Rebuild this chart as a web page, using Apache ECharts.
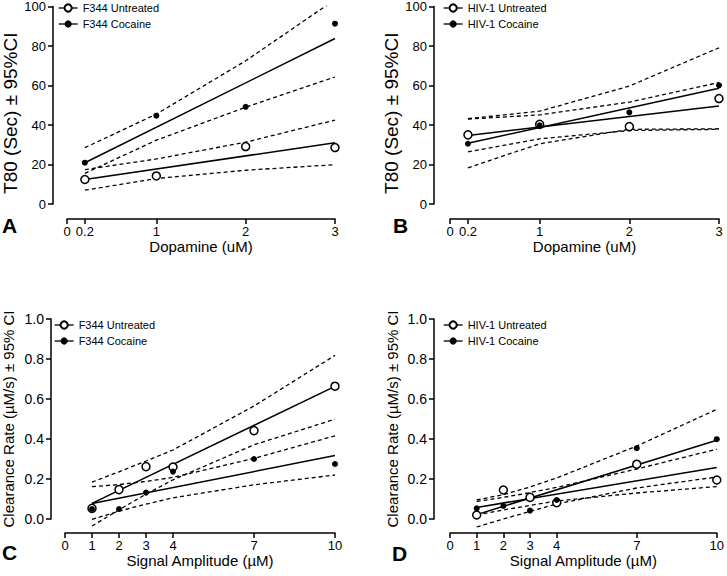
<!DOCTYPE html>
<html>
<head>
<meta charset="utf-8">
<script src="https://cdn.jsdelivr.net/npm/echarts@6/dist/echarts.min.js"></script>
<style>
html,body{margin:0;padding:0;background:#fff;}
#chart{width:727px;height:576px;}
</style>
</head>
<body>
<div id="chart"></div>
<script>
// ---------- DATA ----------
// Panels A/B: Dopamine (uM)
const doseX = [0.2, 1, 2, 3];
const doseFitX = [0.2, 3];
const doseTicks = [0, 0.2, 1, 2, 3];

const aUntreated = [12.4, 14.2, 29.1, 28.6];
const aCocaine = [20.9, 44.7, 49.2, 91.3];
const aUntreatedFit = [12.4, 31.0];
const aCocaineFit = [20.9, 83.8];
const aUntreatedUpper = [17.4, 22.8, 31.3, 42.5];
const aUntreatedLower = [7.0, 12.9, 17.1, 19.9];
const aCocaineUpper = [28.5, 45.5, 72.5, 103.5];
const aCocaineLower = [15.5, 32.3, 49.0, 64.3];

const bUntreated = [35.0, 40.3, 39.2, 53.4];
const bCocaine = [30.5, 39.8, 46.4, 60.1];
const bUntreatedFit = [34.7, 49.6];
const bCocaineFit = [30.8, 58.6];
const bUntreatedUpper = [43.0, 45.1, 51.6, 61.5];
const bUntreatedLower = [26.4, 33.0, 37.2, 37.8];
const bCocaineUpper = [43.2, 47.0, 59.7, 79.1];
const bCocaineLower = [18.3, 30.5, 37.8, 38.1];

// Panels C/D: Signal Amplitude (uM)
const ampX = [1, 2, 3, 4, 7, 10];
const ampFitX = [1, 10];
const ampTicks = [0, 1, 2, 3, 4, 7, 10];

const cUntreated = [0.053, 0.147, 0.262, 0.260, 0.442, 0.664];
const cCocaine = [0.050, 0.050, 0.132, 0.237, 0.300, 0.275];
const cUntreatedFit = [0.078, 0.663];
const cCocaineFit = [0.078, 0.317];
const cUntreatedUpper = [0.184, 0.236, 0.290, 0.345, 0.565, 0.818];
const cUntreatedLower = [-0.035, 0.046, 0.124, 0.196, 0.371, 0.499];
const cCocaineUpper = [0.162, 0.172, 0.188, 0.208, 0.303, 0.416];
const cCocaineLower = [-0.002, 0.039, 0.074, 0.106, 0.171, 0.220];

const dUntreated = [0.020, 0.145, 0.108, 0.082, 0.274, 0.195];
const dCocaine = [0.053, 0.065, 0.042, 0.095, 0.354, 0.399];
const dUntreatedFit = [0.058, 0.257];
const dCocaineFit = [0.022, 0.394];
const dUntreatedUpper = [0.088, 0.108, 0.132, 0.158, 0.250, 0.349];
const dUntreatedLower = [0.020, 0.045, 0.068, 0.090, 0.130, 0.162];
const dCocaineUpper = [0.095, 0.122, 0.160, 0.205, 0.365, 0.548];
const dCocaineLower = [-0.040, 0.000, 0.038, 0.075, 0.155, 0.210];

const panelLetters = ['A', 'B', 'C', 'D'];
const yTitleTop = 'T80 (Sec) ± 95%CI';
const yTitleBottom = 'Clearance Rate (µM/s) ± 95% CI';
const xTitleTop = 'Dopamine (uM)';
const xTitleBottom = 'Signal Amplitude (µM)';
const legendA = ['F344 Untreated', 'F344 Cocaine'];
const legendB = ['HIV-1 Untreated', 'HIV-1 Cocaine'];

// ---------- BUILD ----------
const FONT = '"Liberation Sans", Arial, Helvetica, sans-serif';
const pairs = (xs, ys) => xs.map((x, i) => [x, ys[i]]);

const grids = [
  {left: 64, top: 5, width: 271, height: 199},
  {left: 450, top: 5, width: 269, height: 199},
  {left: 64, top: 319, width: 271, height: 200},
  {left: 450, top: 319, width: 270, height: 200}
];

const axLine = {show: true, onZero: false, lineStyle: {color: '#000', width: 1.5}};

function xAx(gi, max, ticks, name, offset) {
  return {
    gridIndex: gi, type: 'value', min: 0, max: max, offset: offset,
    axisLine: axLine,
    axisTick: {show: true, length: 5, customValues: ticks, lineStyle: {color: '#000', width: 1.5}},
    axisLabel: {customValues: ticks, color: '#000', fontSize: 13, fontFamily: FONT, margin: 6},
    splitLine: {show: false},
    name: name, nameLocation: 'middle', nameGap: 17,
    nameTextStyle: {color: '#000', fontSize: 15, fontFamily: FONT}
  };
}
function yAx(gi, max, interval, name, offset, gap, nameSize, labelSize, dec, namePad) {
  return {
    gridIndex: gi, type: 'value', min: 0, max: max, interval: interval, offset: offset,
    axisLine: axLine,
    axisTick: {show: true, length: 5, lineStyle: {color: '#000', width: 1.5}},
    axisLabel: {color: '#000', fontSize: labelSize, fontFamily: FONT, margin: 7,
      formatter: v => dec ? v.toFixed(1) : String(v)},
    splitLine: {show: false},
    name: name, nameLocation: 'middle', nameGap: gap,
    nameTextStyle: {color: '#000', fontSize: nameSize, fontFamily: FONT, padding: namePad}
  };
}

const series = [];
function addPanel(gi, xs, fitX, untr, coc, uFit, cFit, uUp, uLo, cUp, cLo, names, clip) {
  const dash = {color: '#000', width: 1.3, type: [4, 3]};
  [uUp, uLo, cUp, cLo].forEach((arr, k) => {
    series.push({
      type: 'line', name: 'ci' + gi + '_' + k, xAxisIndex: gi, yAxisIndex: gi,
      data: pairs(xs, arr), showSymbol: false, symbol: 'none', smooth: false,
      lineStyle: dash, clip: clip, silent: true, z: 2
    });
  });
  [uFit, cFit].forEach((arr, k) => {
    series.push({
      type: 'line', name: 'fit' + gi + '_' + k, xAxisIndex: gi, yAxisIndex: gi,
      data: pairs(fitX, arr), showSymbol: false, symbol: 'none',
      lineStyle: {color: '#000', width: 1.5}, clip: clip, silent: true, z: 3
    });
  });
  series.push({
    type: 'line', name: names[0], xAxisIndex: gi, yAxisIndex: gi,
    data: pairs(xs, untr), symbol: 'circle', symbolSize: 8, showSymbol: true,
    itemStyle: {color: '#fff', borderColor: '#000', borderWidth: 1.5},
    lineStyle: {width: 0, color: '#000'}, clip: false, silent: true, z: 4
  });
  series.push({
    type: 'line', name: names[1], xAxisIndex: gi, yAxisIndex: gi,
    data: pairs(xs, coc), symbol: 'circle', symbolSize: 6, showSymbol: true,
    itemStyle: {color: '#000', borderColor: '#000', borderWidth: 0},
    lineStyle: {width: 0, color: '#000'}, clip: false, silent: true, z: 5
  });
}

addPanel(0, doseX, doseFitX, aUntreated, aCocaine, aUntreatedFit, aCocaineFit,
  aUntreatedUpper, aUntreatedLower, aCocaineUpper, aCocaineLower, legendA, true);
addPanel(1, doseX, doseFitX, bUntreated, bCocaine, bUntreatedFit, bCocaineFit,
  bUntreatedUpper, bUntreatedLower, bCocaineUpper, bCocaineLower, legendB, true);
addPanel(2, ampX, ampFitX, cUntreated, cCocaine, cUntreatedFit, cCocaineFit,
  cUntreatedUpper, cUntreatedLower, cCocaineUpper, cCocaineLower, legendA, false);
addPanel(3, ampX, ampFitX, dUntreated, dCocaine, dUntreatedFit, dCocaineFit,
  dUntreatedUpper, dUntreatedLower, dCocaineUpper, dCocaineLower, legendB, false);

function leg(names, left, top) {
  return {
    data: names, left: left, top: top, orient: 'vertical', padding: 0,
    itemWidth: 19, itemHeight: 9, itemGap: 4, selectedMode: false,
    textStyle: {color: '#000', fontSize: 11, fontFamily: FONT, lineHeight: 12},
    lineStyle: {color: '#000', width: 1.3, type: 'solid', opacity: 1}
  };
}

const titlePos = [{left: 2, top: 215}, {left: 393, top: 215}, {left: 2, top: 542}, {left: 392, top: 543}];

const option = {
  animation: false,
  backgroundColor: '#fff',
  title: panelLetters.map((t, i) => ({
    text: t, left: titlePos[i].left, top: titlePos[i].top, padding: 0,
    textStyle: {color: '#000', fontSize: 21, fontWeight: 'bold', fontFamily: FONT}
  })),
  legend: [leg(legendA, 58, 2), leg(legendB, 443, 2), leg(legendA, 54, 319), leg(legendB, 443, 319)],
  grid: grids,
  xAxis: [
    xAx(0, 3, doseTicks, xTitleTop, 15),
    xAx(1, 3, doseTicks, xTitleTop, 15),
    xAx(2, 10, ampTicks, xTitleBottom, 14),
    xAx(3, 10, ampTicks, xTitleBottom, 14)
  ],
  yAxis: [
    yAx(0, 100, 20, yTitleTop, 14, 33, 19, 13, false, [0, 16, 0, 0]),
    yAx(1, 100, 20, yTitleTop, 16, 33, 19, 13, false, [0, 16, 0, 0]),
    yAx(2, 1, 0.2, yTitleBottom, 14, 35, 15, 14, true, 0),
    yAx(3, 1, 0.2, yTitleBottom, 16, 34, 15, 14, true, 0)
  ],
  series: series
};

const chart = echarts.init(document.getElementById('chart'), null, {renderer: 'svg'});
chart.setOption(option);
</script>
</body>
</html>
